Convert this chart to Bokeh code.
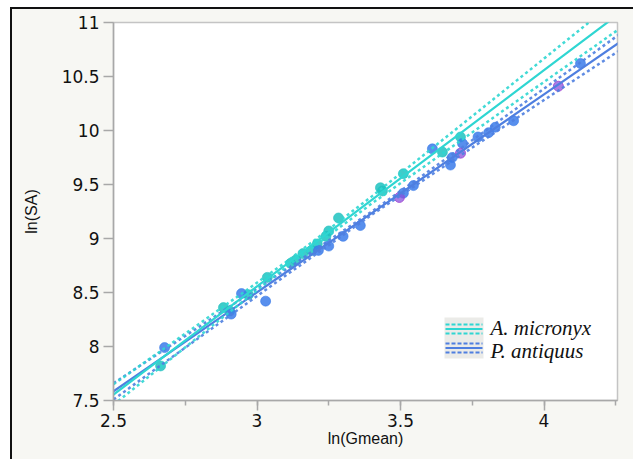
from bokeh.plotting import figure
from bokeh.embed import file_html
from bokeh.resources import INLINE
from bokeh.layouts import column
from bokeh.models import Label, SingleIntervalTicker, CustomJSTickFormatter, Range1d

# ---------------- data ----------------
micronyx_x = [2.664, 2.883, 2.905, 2.97, 3.036, 3.117, 3.135, 3.16, 3.19, 3.21, 3.24, 3.25, 3.284, 3.43, 3.437, 3.51, 3.646, 3.709]
micronyx_y = [7.82, 8.36, 8.33, 8.48, 8.64, 8.77, 8.80, 8.86, 8.89, 8.95, 9.02, 9.07, 9.19, 9.47, 9.44, 9.60, 9.80, 9.94]

antiquus_x = [2.678, 2.91, 2.946, 3.03, 3.214, 3.25, 3.30, 3.36, 3.51, 3.545, 3.611, 3.674, 3.68, 3.716, 3.77, 3.807, 3.83, 3.894, 4.127]
antiquus_y = [7.99, 8.30, 8.49, 8.42, 8.89, 8.93, 9.02, 9.12, 9.42, 9.49, 9.83, 9.68, 9.75, 9.88, 9.94, 9.98, 10.03, 10.09, 10.62]

other_x = [3.496, 3.709, 4.05]
other_y = [9.38, 9.79, 10.41]

# fitted lines and confidence bands, read at these x positions
band_x = [2.5, 2.8, 3.1, 3.4, 3.7, 4.0, 4.3]
micronyx_fit = [7.555, 8.156, 8.756, 9.357, 9.957, 10.558, 11.159]
micronyx_upper = [7.650, 8.213, 8.780, 9.390, 10.026, 10.666, 11.307]
micronyx_lower = [7.460, 8.099, 8.732, 9.324, 9.888, 10.450, 11.011]
antiquus_fit = [7.585, 8.135, 8.685, 9.235, 9.785, 10.335, 10.884]
antiquus_upper = [7.660, 8.185, 8.713, 9.250, 9.816, 10.388, 10.962]
antiquus_lower = [7.510, 8.085, 8.657, 9.220, 9.754, 10.282, 10.806]

series_names = ["A. micronyx", "P. antiquus"]
x_label = "ln(Gmean)"
y_label = "ln(SA)"

# ---------------- styling ----------------
CYAN_LINE = "#2fd6d2"
CYAN_PT = "#1fc2bf"
BLUE_LINE = "#4f7fe0"
BLUE_PT = "#3b7bea"
PURPLE = "#8a52dc"
BG = "#f7f7f3"

X0, X1 = 2.5, 4.256
Y0, Y1 = 7.5, 11.0
FL, FT, FW, FH = 113, 22, 504, 378  # frame position on the page (px)


def dx(px):
    return X0 + (px - FL) / FW * (X1 - X0)


def dy(py):
    return Y1 - (py - FT) / FH * (Y1 - Y0)


p = figure(width=621, height=450, output_backend="svg", toolbar_location=None,
           x_range=Range1d(X0, X1), y_range=Range1d(Y0, Y1),
           min_border_left=101, min_border_right=16, min_border_top=13, min_border_bottom=59)
p.border_fill_color = BG
p.background_fill_color = "white"
p.outline_line_color = "#c4c4c4"
p.outline_line_width = 1.5
p.xgrid.visible = False
p.ygrid.visible = False

p.xaxis.ticker = SingleIntervalTicker(interval=0.5, num_minor_ticks=2)
p.yaxis.ticker = SingleIntervalTicker(interval=0.5, num_minor_ticks=0)
fmt = CustomJSTickFormatter(code="return tick.toString();")
for ax in (p.xaxis[0], p.yaxis[0]):
    ax.formatter = fmt
    ax.axis_line_color = "#a8a8a8"
    ax.axis_line_width = 1.5
    ax.major_tick_line_color = "#a8a8a8"
    ax.major_tick_line_width = 1.5
    ax.minor_tick_line_color = "#a8a8a8"
    ax.minor_tick_line_width = 1.5
    ax.major_tick_out = 10
    ax.major_tick_in = 0
    ax.minor_tick_out = 5
    ax.minor_tick_in = 0
    ax.major_label_text_font = "DejaVu Sans"
    ax.major_label_text_font_size = "17px"
    ax.major_label_text_color = "#111111"
    ax.axis_label_text_font = "Liberation Sans"
    ax.axis_label_text_font_size = "16px"
    ax.axis_label_text_font_style = "normal"
    ax.axis_label_text_color = "#111111"

p.xaxis.major_label_standoff = 3
p.yaxis.major_label_standoff = 4
p.xaxis.axis_label = x_label
p.yaxis.axis_label = y_label
p.xaxis.axis_label_standoff = 0
p.yaxis.axis_label_standoff = 19

# points
p.scatter(micronyx_x, micronyx_y, size=10, fill_color=CYAN_PT, line_color=CYAN_PT, fill_alpha=0.85, line_alpha=0.6)
p.scatter(antiquus_x, antiquus_y, size=10, fill_color=BLUE_PT, line_color=BLUE_PT, fill_alpha=0.85, line_alpha=0.6)
p.scatter(other_x, other_y, size=10, fill_color=PURPLE, line_color="#a040d0", fill_alpha=0.75, line_alpha=0.8)

# bands and fits
for up, lo, fit, col in ((antiquus_upper, antiquus_lower, antiquus_fit, BLUE_LINE),
                         (micronyx_upper, micronyx_lower, micronyx_fit, CYAN_LINE)):
    p.line(band_x, up, line_color=col, line_width=2.5, line_dash="3 3", line_alpha=0.9)
    p.line(band_x, lo, line_color=col, line_width=2.5, line_dash="3 3", line_alpha=0.9)
    p.line(band_x, fit, line_color=col, line_width=2.2)

# legend (manual)
p.quad(left=dx(444), right=dx(483), top=dy(317), bottom=dy(358), fill_color="#ebebe8", line_color=None)
lx = [dx(445), dx(482)]
for ys, col in (((324, 328.5, 333), CYAN_LINE), ((343, 347.5, 352), BLUE_LINE)):
    p.line(lx, [dy(ys[0])] * 2, line_color=col, line_width=2, line_dash="4 2")
    p.line(lx, [dy(ys[1])] * 2, line_color=col, line_width=2)
    p.line(lx, [dy(ys[2])] * 2, line_color=col, line_width=2, line_dash="4 2")

for name, py in zip(series_names, (327, 350)):
    p.add_layout(Label(x=dx(490), y=dy(py), text=name, text_font="Liberation Serif",
                       text_font_style="italic", text_font_size="21px", text_color="#111111",
                       text_baseline="middle", text_align="left"))

root = column(p, styles={"margin-left": "10px", "margin-top": "7px",
                         "border-top": "2px solid #111111", "border-left": "2px solid #111111",
                         "background": BG})

open("out.html", "w").write(file_html(root, INLINE))
